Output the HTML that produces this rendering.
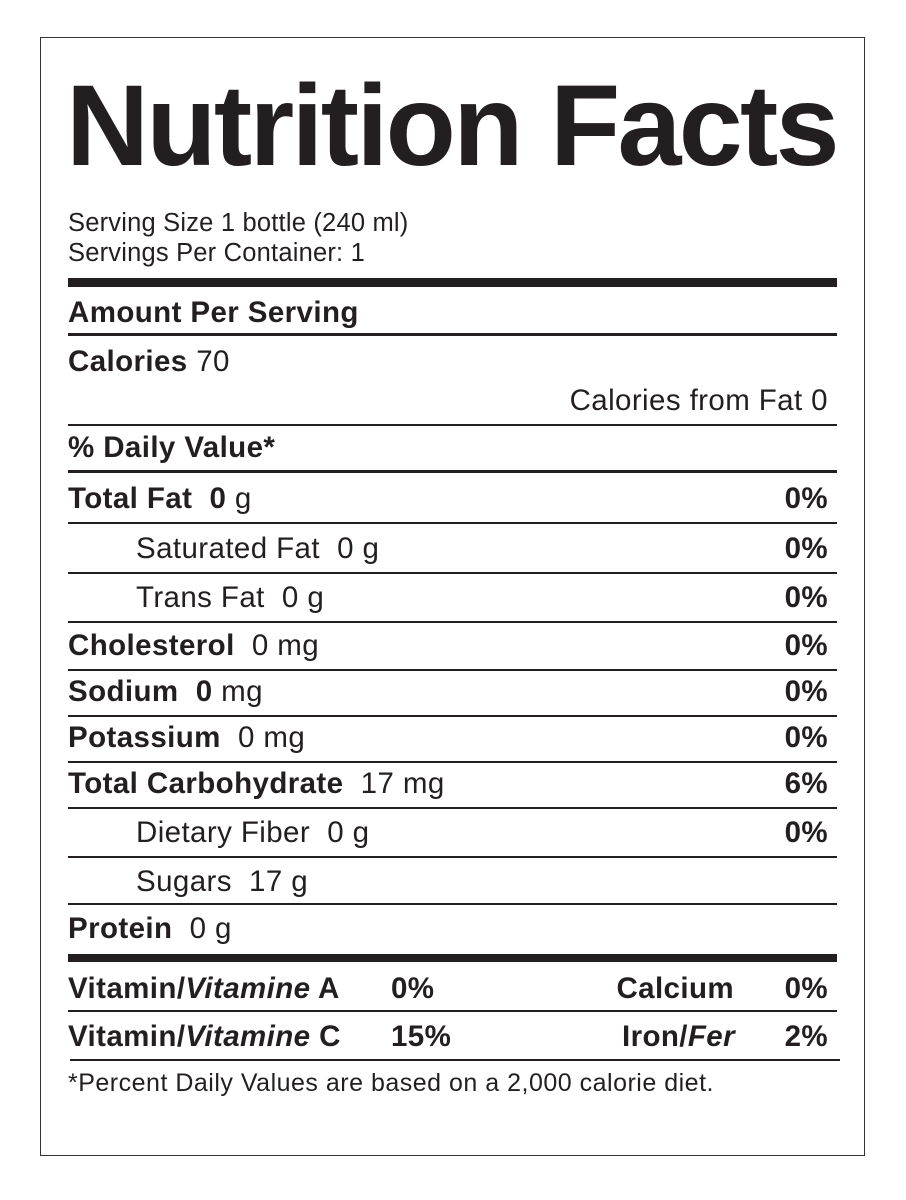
<!DOCTYPE html>
<html><head><meta charset="utf-8"><style>
html,body{margin:0;padding:0;background:#fff;}
body{width:906px;height:1200px;position:relative;overflow:hidden;font-family:"Liberation Sans",Arial,sans-serif;color:#231f20;}
.box{position:absolute;left:40px;top:37px;width:825px;height:1119px;border:1.5px solid #333;box-sizing:border-box;}
.t{position:absolute;line-height:1;white-space:nowrap;font-size:29.5px;letter-spacing:0.4px;}
.s{font-size:25.5px;letter-spacing:0.2px;}
.l{position:absolute;left:68px;width:769px;background:#231f20;}
.b{font-weight:bold;}
.r{text-align:right;}
</style></head><body>
<div class="box"></div>
<div class="t b" style="left:66px;top:69px;font-size:115px;letter-spacing:-2.7px;">Nutrition Facts</div>
<div class="t s" style="left:68px;top:211px;">Serving Size 1 bottle (240 ml)</div>
<div class="t s" style="left:68px;top:241px;">Servings Per Container: 1</div>
<div class="l" style="top:278px;height:9px;"></div>
<div class="t b" style="left:68px;top:298px;">Amount Per Serving</div>
<div class="l" style="top:333px;height:3px;"></div>
<div class="t" style="left:68px;top:347px;"><b>Calories</b> 70</div>
<div class="t r" style="right:78px;top:386px;">Calories from Fat 0</div>
<div class="l" style="top:424px;height:1.5px;"></div>
<div class="t b" style="left:68px;top:433px;">% Daily Value*</div>
<div class="l" style="top:470px;height:3px;"></div>

<div class="t" style="left:68px;top:484px;"><b>Total Fat&nbsp; 0</b> g</div>
<div class="t b r" style="right:78px;top:484px;">0%</div>
<div class="l" style="top:522px;height:1.5px;"></div>
<div class="t" style="left:136px;top:534px;">Saturated Fat&nbsp; 0 g</div>
<div class="t b r" style="right:78px;top:534px;">0%</div>
<div class="l" style="top:572px;height:1.5px;"></div>
<div class="t" style="left:136px;top:583px;">Trans Fat&nbsp; 0 g</div>
<div class="t b r" style="right:78px;top:583px;">0%</div>
<div class="l" style="top:621px;height:1.5px;"></div>
<div class="t" style="left:68px;top:631px;"><b>Cholesterol</b>&nbsp; 0 mg</div>
<div class="t b r" style="right:78px;top:631px;">0%</div>
<div class="l" style="top:669px;height:1.5px;"></div>
<div class="t" style="left:68px;top:677px;"><b>Sodium&nbsp; 0</b> mg</div>
<div class="t b r" style="right:78px;top:677px;">0%</div>
<div class="l" style="top:715px;height:1.5px;"></div>
<div class="t" style="left:68px;top:723px;"><b>Potassium</b>&nbsp; 0 mg</div>
<div class="t b r" style="right:78px;top:723px;">0%</div>
<div class="l" style="top:761px;height:1.5px;"></div>
<div class="t" style="left:68px;top:769px;"><b>Total Carbohydrate</b>&nbsp; 17 mg</div>
<div class="t b r" style="right:78px;top:769px;">6%</div>
<div class="l" style="top:807px;height:1.5px;"></div>
<div class="t" style="left:136px;top:818px;">Dietary Fiber&nbsp; 0 g</div>
<div class="t b r" style="right:78px;top:818px;">0%</div>
<div class="l" style="top:856px;height:1.5px;"></div>
<div class="t" style="left:136px;top:867px;">Sugars&nbsp; 17 g</div>
<div class="l" style="top:903px;height:1.5px;"></div>
<div class="t" style="left:68px;top:914px;"><b>Protein</b>&nbsp; 0 g</div>
<div class="l" style="top:954px;height:8px;"></div>

<div class="t b" style="left:68px;top:974px;">Vitamin/<i>Vitamine</i> A</div>
<div class="t b" style="left:391px;top:974px;">0%</div>
<div class="t b r" style="right:172px;top:974px;">Calcium</div>
<div class="t b r" style="right:78px;top:974px;">0%</div>
<div class="l" style="top:1010px;height:1.5px;"></div>
<div class="t b" style="left:68px;top:1022px;">Vitamin/<i>Vitamine</i> C</div>
<div class="t b" style="left:391px;top:1022px;">15%</div>
<div class="t b r" style="right:171px;top:1022px;">Iron/<i>Fer</i></div>
<div class="t b r" style="right:78px;top:1022px;">2%</div>
<div class="l" style="left:70px;width:770px;top:1059px;height:2px;"></div>
<div class="t" style="left:68px;top:1071px;font-size:25px;letter-spacing:0.5px;">*Percent Daily Values are based on a 2,000 calorie diet.</div>
</body></html>
